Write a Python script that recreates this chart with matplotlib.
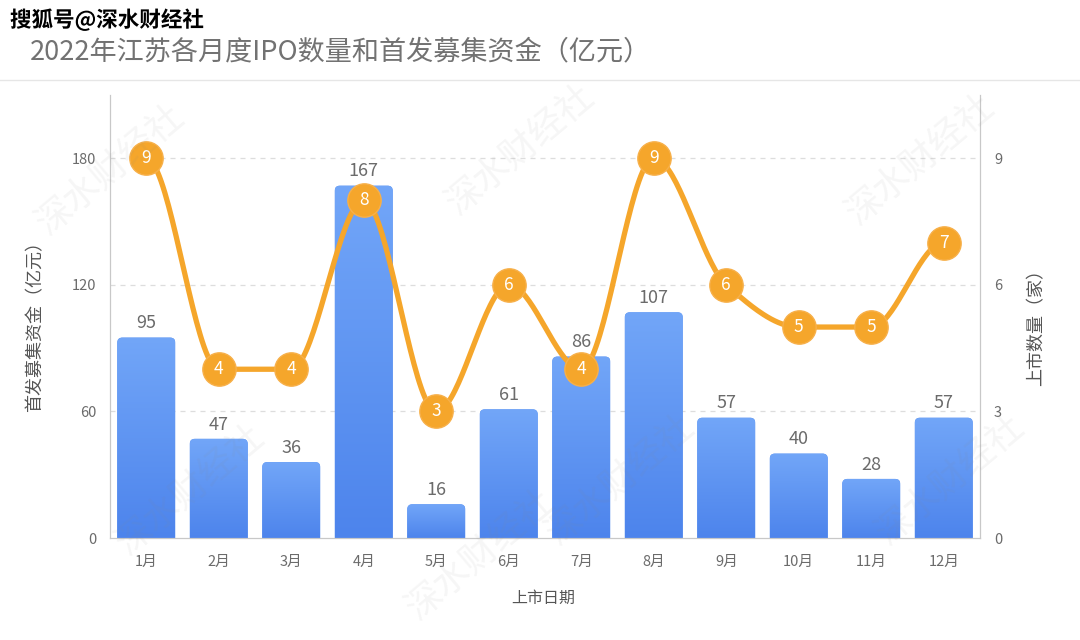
import numpy as np
import matplotlib
matplotlib.use('Agg')
import matplotlib.pyplot as plt
import matplotlib.patheffects as pe
from matplotlib.patches import FancyBboxPatch
from matplotlib.colors import LinearSegmentedColormap

plt.rcParams['font.family'] = ['Noto Sans CJK SC', 'DejaVu Sans']

months = ['1月', '2月', '3月', '4月', '5月', '6月', '7月', '8月', '9月', '10月', '11月', '12月']
funds = [95, 47, 36, 167, 16, 61, 86, 107, 57, 40, 28, 57]
counts = [9, 4, 4, 8, 3, 6, 4, 9, 6, 5, 5, 7]
left_ticks = [0, 60, 120, 180]
right_ticks = [0, 3, 6, 9]

GRAY = '#6b6b6b'
ORANGE = '#f5a62b'


def pchip(x, y, n=40):
    # monotone cubic, so flat runs stay flat like the echarts smooth line
    x = np.asarray(x, float)
    y = np.asarray(y, float)
    h = np.diff(x)
    d = np.diff(y) / h
    m = np.zeros_like(y)
    for i in range(1, len(y) - 1):
        if d[i - 1] * d[i] > 0:
            m[i] = 2 / (1 / d[i - 1] + 1 / d[i])
    m[0] = d[0] if d[0] * d[min(1, len(d) - 1)] > 0 else 0
    m[-1] = d[-1] if d[-1] * d[-2] > 0 else 0
    xs, ys = [], []
    for i in range(len(h)):
        t = np.linspace(0, 1, n)
        h00 = 2 * t**3 - 3 * t**2 + 1
        h10 = t**3 - 2 * t**2 + t
        h01 = -2 * t**3 + 3 * t**2
        h11 = t**3 - t**2
        xs.append(x[i] + t * h[i])
        ys.append(h00 * y[i] + h10 * h[i] * m[i] + h01 * y[i + 1] + h11 * h[i] * m[i + 1])
    return np.concatenate(xs), np.concatenate(ys)


fig = plt.figure(figsize=(10.8, 6.4), dpi=100)
ax = fig.add_axes([110 / 1080, 1 - 538 / 640, 870 / 1080, 443 / 640])
ax2 = ax.twinx()

x = np.arange(len(months))

# bars with gradient and rounded tops
cmap = LinearSegmentedColormap.from_list('bl', ['#4d84ec', '#72a6f8'])
grad = np.linspace(0, 1, 256).reshape(-1, 1)
w = 0.8
aspect = (210 / 443) / (12 / 870)
r = 0.07
for xi, v in zip(x, funds):
    patch = FancyBboxPatch((xi - w / 2, -10), w, v + 10,
                           boxstyle=f'round,pad=0,rounding_size={r}',
                           mutation_aspect=aspect, facecolor='#5b92f0',
                           edgecolor='none', zorder=2)
    ax.add_patch(patch)
    im = ax.imshow(grad, cmap=cmap, aspect='auto', origin='lower',
                   extent=(xi - w / 2, xi + w / 2, 0, v), zorder=2.1)
    im.set_clip_path(patch)
    ax.text(xi, v + 2.5, str(v), ha='center', va='bottom', fontsize=13, color=GRAY, zorder=3)

ax.set_aspect('auto')
ax.set_xlim(-0.5, len(months) - 0.5)
ax.set_ylim(0, 210)
ax2.set_ylim(0, 10.5)

for t in left_ticks[1:]:
    ax.axhline(t, color='#dddddd', lw=0.9, ls=(0, (4, 4)), zorder=1)

# smooth line with numbered markers
sx, sy = pchip(x, counts)
ax2.plot(sx, sy, color=ORANGE, lw=3.8, zorder=4, solid_capstyle='round')
ax2.plot(x, counts, 'o', ms=24, color=ORANGE, mec='#f7b04a', mew=1, zorder=5)
for xi, c in zip(x, counts):
    ax2.text(xi, c, str(c), ha='center', va='center', fontsize=12.5, color='white', zorder=6)

ax.set_xticks(x)
ax.set_xticklabels(months)
ax.set_yticks(left_ticks)
ax2.set_yticks(right_ticks)
for a in (ax, ax2):
    a.tick_params(length=0, labelsize=10.5, colors=GRAY, pad=10)
    a.spines['top'].set_visible(False)
    for s in ('left', 'right', 'bottom'):
        a.spines[s].set_color('#c8c8c8')
ax.tick_params(axis='x', pad=12)

ax.set_ylabel('首发募集资金（亿元）', fontsize=13, color='#555555')
ax.yaxis.set_label_coords(-0.075, 0.488)
ax2.set_ylabel('上市数量（家）', fontsize=13, color='#555555', rotation=90)
ax2.yaxis.set_label_coords(1.055, 0.485)
ax.set_xlabel('上市日期', fontsize=11.5, color='#555555')
ax.xaxis.set_label_coords(0.4977, -0.118)

ax.set_zorder(1)
ax2.set_zorder(2)
ax.patch.set_visible(False)
ax2.patch.set_visible(False)

# header
fig.text(30 / 1080, 1 - 52 / 640, '2022年江苏各月度IPO数量和首发募集资金（亿元）',
         fontsize=19.5, color='#727272', va='center', ha='left')
fig.lines.append(plt.Line2D([0, 1], [1 - 80 / 640] * 2, transform=fig.transFigure,
                            color='#e6e6e6', lw=1))
fig.text(10 / 1080, 1 - 20 / 640, '搜狐号@深水财经社', fontsize=15.5, fontweight='bold',
         color='black', va='center', ha='left',
         path_effects=[pe.withStroke(linewidth=3, foreground='white')])

# faint watermarks
for wx, wy in [(110, 170), (520, 150), (920, 160), (190, 490), (620, 480), (950, 480), (480, 555)]:
    fig.text(wx / 1080, 1 - wy / 640, '深水财经社', fontsize=26, color='#888888', alpha=0.08,
             rotation=40, ha='center', va='center', zorder=10)

fig.savefig('out.png', dpi=100)
